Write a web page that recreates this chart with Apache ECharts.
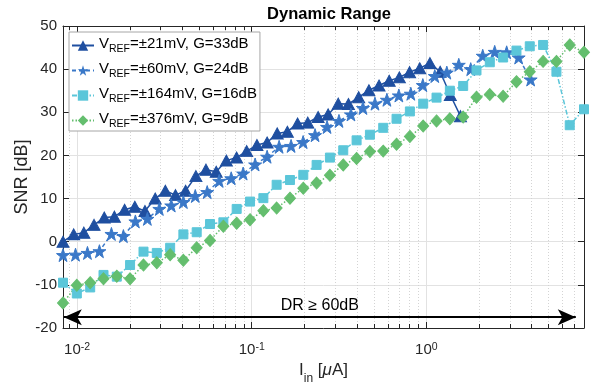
<!DOCTYPE html>
<html><head><meta charset="utf-8">
<script src="https://cdn.jsdelivr.net/npm/echarts@6/dist/echarts.min.js"></script>
<style>html,body{margin:0;padding:0;background:#fff}#c{width:594px;height:390px}</style>
</head><body><div id="c"></div>
<script>
// ---- data ----
const seriesNames = ['±21mV, G=33dB', '±60mV, G=24dB', '±164mV, G=16dB', '±376mV, G=9dB'];
const xTri = [0.0083,0.00956,0.01093,0.0125,0.0143,0.01635,0.0187,0.0214,0.02446,0.028,0.032,0.0366,0.0418,0.0479,0.0547,0.0626,0.0716,0.0819,0.0936,0.1071,0.1225,0.14,0.16,0.183,0.2095,0.24,0.274,0.313,0.358,0.41,0.469,0.536,0.613,0.701,0.802,0.917,1.049,1.2,1.372,1.569];
const snrTri = [0,1.7,2.1,3.9,5.6,5.8,7.4,8.1,7.1,10.0,11.8,10.8,11.8,15.2,16.7,16.2,18.8,19.5,21.0,22.4,23.0,25.1,25.5,27.4,27.6,28.9,29.5,32.0,31.9,33.5,35.1,36.2,37.3,38.1,39.3,40.2,41.4,39.4,34.0,29.1];
const xStar = [0.0083,0.00979,0.01146,0.01342,0.01572,0.01841,0.02156,0.02525,0.02957,0.0346,0.0406,0.0475,0.0556,0.0651,0.0763,0.0893,0.1046,0.1225,0.1435,0.168,0.197,0.2305,0.27,0.316,0.37,0.4335,0.508,0.5945,0.696,0.815,0.955,1.118,1.31,1.534,1.796,2.104,2.464,2.885,3.379,3.958];
const snrStar = [-3.1,-3.0,-2.6,-2.2,1.8,1.3,4.7,5.3,7.6,8.4,9.2,10.6,11.5,14.1,14.7,15.8,17.9,19.7,22.0,22.2,23.1,24.7,26.6,28.0,29.5,31.0,32.0,32.9,33.9,34.3,36.3,38.4,39.2,41.0,40.0,43.1,44.0,43.9,42.7,37.6];
const xSqDia = [0.0083,0.00996,0.01188,0.01416,0.01687,0.0201,0.024,0.0286,0.0341,0.0406,0.0484,0.0577,0.0688,0.082,0.0978,0.1166,0.1389,0.1656,0.1974,0.2353,0.2805,0.3344,0.3987,0.4753,0.5665,0.6753,0.8051,0.9596,1.144,1.364,1.626,1.938,2.31,2.754,3.283,3.913,4.665,5.561,6.629,8.0];
const snrSq = [-9.5,-12.0,-10.6,-7.7,-8.1,-5.4,-2.3,-2.6,-1.4,1.7,2.2,4.1,4.5,7.6,9.3,10.1,13.2,14.3,15.5,17.8,19.5,21.2,23.5,24.8,26.4,28.5,30.2,32.0,33.4,35.0,36.1,39.7,41.6,42.7,44.3,45.3,45.6,39.4,27.0,30.7];
const snrDia = [-14.2,-10.1,-9.5,-8.6,-8.0,-8.6,-5.4,-4.9,-3.0,-4.3,-1.4,0.3,3.6,4.3,5.1,7.2,7.8,10.1,12.4,13.6,15.4,17.8,19.3,20.9,21.0,22.6,24.4,26.8,28.0,28.5,28.9,33.5,34.1,33.7,37.1,39.4,41.8,41.8,45.6,43.9];
const xMajorTicks = [0.01, 0.1, 1];
const xMinorTicks = [0.009,0.02,0.03,0.04,0.05,0.06,0.07,0.08,0.09,0.2,0.3,0.4,0.5,0.6,0.7,0.8,0.9,2,3,4,5,6,7];
const yTicks = [-20,-10,0,10,20,30,40,50];
const drArrow = {x0: 0.00839, x1: 7.18, y: -17.5, label: 'DR ≥ 60dB'};

// ---- chart ----
const FONT = '"Liberation Sans", Arial, Helvetica, sans-serif';
const AX = '#262626';
const GRID = '#e2e2e2';
const colors = ['#1f4fa0', '#3a78c8', '#5bc6d9', '#64be6e'];
const starPath = 'path://M50,0 L61.8,35.1 L98.1,35.1 L68.7,56.8 L79.4,91 L50,70 L20.6,91 L31.3,56.8 L1.9,35.1 L38.2,35.1 Z';

function lineSeries(name, xs, ys, symbol, size, color, type, width) {
  return {
    type: 'line', name, xAxisIndex: 0, yAxisIndex: 0,
    data: xs.map((x, i) => [x, ys[i]]),
    symbol, symbolSize: size, showSymbol: true, showAllSymbol: true,
    itemStyle: {color, borderColor: color},
    lineStyle: {color, width, type},
    emphasis: {disabled: true}, animation: false, clip: false
  };
}

const chart = echarts.init(document.getElementById('c'), null, {renderer: 'canvas'});
const supRich = {
  b: {fontSize: 15, fontFamily: FONT, color: AX, lineHeight: 15, verticalAlign: 'bottom'},
  s: {fontSize: 10.5, fontFamily: FONT, color: AX, lineHeight: 10, verticalAlign: 'top', padding: [0, 0, 8, 0]}
};
function xLabel(v) {
  const e = Math.round(Math.log10(v));
  if (!xMajorTicks.some(t => Math.abs(t - v) / t < 1e-6)) return '';
  return '{b|10}{s|' + (e < 0 ? '-' + (-e) : e) + '}';
}

const option = {
  backgroundColor: '#fff',
  animation: false,
  textStyle: {fontFamily: FONT},
  title: {
    text: 'Dynamic Range', left: 324, top: 1, textAlign: 'center',
    textStyle: {fontSize: 16.5, fontWeight: 'bold', color: '#000', fontFamily: FONT}
  },
  grid: {left: 63, right: 10, top: 26, bottom: 60, containLabel: false},
  legend: {
    data: seriesNames, orient: 'vertical', left: 69, top: 32,
    backgroundColor: '#fff', borderColor: '#a6a6a6', borderWidth: 1, borderRadius: 0,
    padding: [4, 3, 1, 2], itemGap: 6, itemWidth: 22, itemHeight: 13, selectedMode: false,
    formatter: n => '{v|V}{s|REF}{t|=' + n + '}{z|\u200b}',
    textStyle: {
      rich: {
        v: {fontSize: 15, fontFamily: FONT, color: '#000', lineHeight: 15, verticalAlign: 'top'},
        t: {fontSize: 15, fontFamily: FONT, color: '#000', lineHeight: 15, verticalAlign: 'top'},
        s: {fontSize: 10.5, fontFamily: FONT, color: '#000', lineHeight: 10, verticalAlign: 'bottom'},
        z: {fontSize: 10, fontFamily: FONT, color: '#000', lineHeight: 19, verticalAlign: 'top'}
      }
    }
  },
  xAxis: [{
    type: 'log', logBase: 10, min: 0.0083, max: 8.0, position: 'bottom',
    axisLine: {show: true, onZero: false, lineStyle: {color: AX, width: 1}},
    axisTick: {show: true, inside: true, length: 6, lineStyle: {color: AX}},
    axisLabel: {formatter: xLabel, rich: supRich, margin: 14, showMinLabel: true, showMaxLabel: true},
    splitLine: {show: true, lineStyle: {color: GRID, width: 1}},
    minorTick: {show: false}, minorSplitLine: {show: false},
    name: '{i|I}{n|in}{i| [}{m|μ}{i|A]}{z|\u200b}', nameLocation: 'middle', nameGap: 34, nameMoveOverlap: false,
    nameTextStyle: {
      rich: {
        i: {fontSize: 17, fontFamily: FONT, color: AX, lineHeight: 17, verticalAlign: 'top'},
        m: {fontSize: 17, fontFamily: FONT, fontStyle: 'italic', color: AX, lineHeight: 17, verticalAlign: 'top'},
        n: {fontSize: 12, fontFamily: FONT, color: AX, lineHeight: 12, verticalAlign: 'bottom'},
        z: {fontSize: 10, fontFamily: FONT, color: AX, lineHeight: 23, verticalAlign: 'top'}
      }
    }
  }, {
    type: 'log', logBase: 10, min: 0.0083, max: 8.0, position: 'top',
    axisLine: {show: true, onZero: false, lineStyle: {color: AX, width: 1}},
    axisTick: {show: true, inside: true, length: 6, lineStyle: {color: AX}},
    axisLabel: {show: false}, splitLine: {show: false}
  }],
  yAxis: [{
    type: 'value', min: -20, max: 50, interval: 10, position: 'left',
    axisLine: {show: true, onZero: false, lineStyle: {color: AX, width: 1}},
    axisTick: {show: true, inside: true, length: 6, lineStyle: {color: AX}},
    axisLabel: {fontSize: 15, color: AX, margin: 6, fontFamily: FONT,
      formatter: v => yTicks.includes(v) ? String(v) : ''},
    splitLine: {show: true, lineStyle: {color: GRID, width: 1}},
    name: 'SNR [dB]', nameLocation: 'middle', nameGap: 32, nameRotate: 90, nameMoveOverlap: false,
    nameTextStyle: {fontSize: 18, color: AX, fontFamily: FONT}
  }, {
    type: 'value', min: -20, max: 50, interval: 10, position: 'right',
    axisLine: {show: true, onZero: false, lineStyle: {color: AX, width: 1}},
    axisTick: {show: true, inside: true, length: 6, lineStyle: {color: AX}},
    axisLabel: {show: false}, splitLine: {show: false}
  }],
  series: [
    {
      type: 'custom', name: 'minorGrid', xAxisIndex: 0, yAxisIndex: 0, silent: true, z: 1,
      data: xMinorTicks.map(v => [v, -20]), encode: {x: 0, y: 1}, clip: false,
      renderItem: function (params, api) {
        const x = api.value(0);
        const b = api.coord([x, -20]);
        const t = api.coord([x, 50]);
        const px = Math.round(b[0]) + 0.5;
        return {type: 'group', children: [
          {type: 'line', shape: {x1: px, y1: b[1], x2: px, y2: t[1]}, style: {stroke: '#d4d4d4', lineWidth: 1, lineDash: [1, 2]}},
          {type: 'line', shape: {x1: px, y1: b[1], x2: px, y2: b[1] - 4}, style: {stroke: AX, lineWidth: 1}},
          {type: 'line', shape: {x1: px, y1: t[1], x2: px, y2: t[1] + 4}, style: {stroke: AX, lineWidth: 1}}
        ]};
      }
    },
    lineSeries(seriesNames[0], xTri, snrTri, 'triangle', [12, 11], colors[0], 'solid', 1.5),
    lineSeries(seriesNames[1], xStar, snrStar, starPath, 13, colors[1], [4, 3], 1.5),
    lineSeries(seriesNames[2], xSqDia, snrSq, 'rect', 9, colors[2], [5, 2, 1.5, 2], 1.5),
    lineSeries(seriesNames[3], xSqDia, snrDia, 'diamond', [11, 12], colors[3], [1.5, 2], 1.5),
    {
      type: 'line', name: 'arrow', xAxisIndex: 0, yAxisIndex: 0, data: [], silent: true,
      markLine: {
        silent: true, animation: false,
        symbol: ['arrow', 'arrow'], symbolSize: [12, 18],
        lineStyle: {color: '#000', width: 2, type: 'solid'},
        label: {show: true, position: 'middle', formatter: drArrow.label, fontSize: 16, color: '#000', fontFamily: FONT, distance: 4},
        emphasis: {disabled: true},
        data: [[{coord: [drArrow.x0, drArrow.y]}, {coord: [drArrow.x1, drArrow.y]}]]
      }
    }
  ]
};
chart.setOption(option);
</script>
</body></html>
